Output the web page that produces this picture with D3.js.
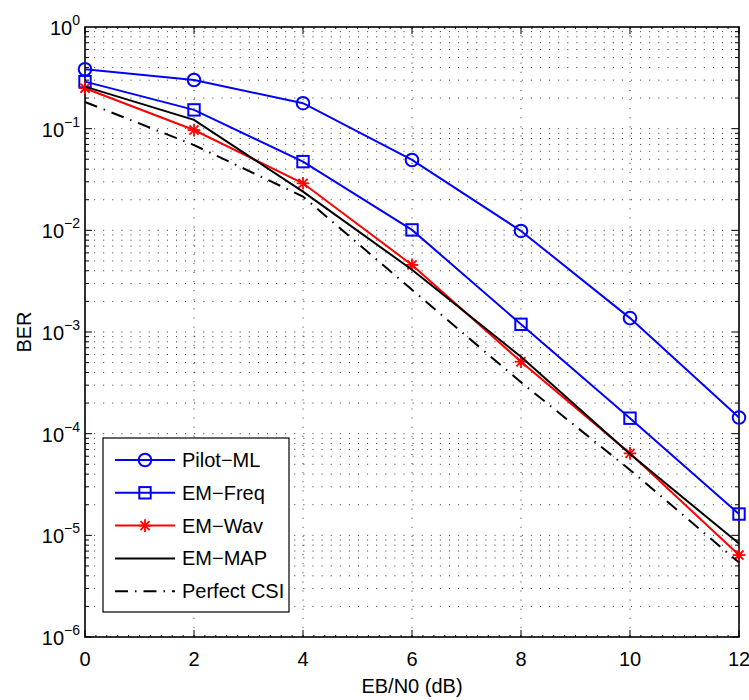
<!DOCTYPE html>
<html><head><meta charset="utf-8">
<script src="https://cdn.jsdelivr.net/npm/d3@7/dist/d3.min.js"></script>
<style>body{margin:0;background:#fff}svg{display:block}text{font-family:"Liberation Sans",Arial,Helvetica,sans-serif}</style>
</head><body><svg id="c" width="749" height="700"></svg>
<script>
const snr = [0, 2, 4, 6, 8, 10, 12];
const pilotML = [0.384, 0.301, 0.178, 0.0492, 0.00986, 0.00137, 0.000144];
const emFreq = [0.29, 0.153, 0.0474, 0.0101, 0.00119, 0.000142, 0.0000162];
const emWav = [0.25, 0.097, 0.029, 0.00457, 0.00051, 0.000064, 0.0000064];
const emMAP = [0.259, 0.122, 0.024, 0.0041, 0.00057, 0.000063, 0.0000083];
const perfectCSI = [0.183, 0.069, 0.0215, 0.0026, 0.00032, 0.000044, 0.0000054];
const xTicks = [0, 2, 4, 6, 8, 10, 12];
const yExponents = [0, -1, -2, -3, -4, -5, -6];
const seriesNames = ["Pilot\u2212ML", "EM\u2212Freq", "EM\u2212Wav", "EM\u2212MAP", "Perfect CSI"];
const xLabel = "EB/N0 (dB)";
const yLabel = "BER";

const series = [
  {name: seriesNames[0], values: pilotML, color: "#0000ff", marker: "circle", dash: null},
  {name: seriesNames[1], values: emFreq, color: "#0000ff", marker: "square", dash: null},
  {name: seriesNames[2], values: emWav, color: "#ff0000", marker: "star", dash: null},
  {name: seriesNames[3], values: emMAP, color: "#000000", marker: null, dash: null},
  {name: seriesNames[4], values: perfectCSI, color: "#000000", marker: null, dash: "13,7,1.5,7"}
];

const L = 85, R = 739, T = 27, B = 637;
const svg = d3.select("#c");
const x = d3.scaleLinear().domain([0, 12]).range([L, R]);
const y = d3.scaleLog().domain([1e-6, 1]).range([B, T]);

// grid
const gridDash = "1,8.1";
const g = svg.append("g");
const minorVals = [];
for (let e = -6; e < 0; e++) for (let k = 1; k <= 9; k++) minorVals.push(k * Math.pow(10, e));
g.selectAll("line.hg").data(minorVals.filter(v => v > 1e-6 && v < 1)).enter().append("line")
  .attr("x1", L).attr("x2", R).attr("y1", d => y(d)).attr("y2", d => y(d))
  .attr("stroke", "#333").attr("stroke-width", 1).attr("stroke-dasharray", gridDash);
g.selectAll("line.vg").data(xTicks.filter(v => v > 0 && v < 12)).enter().append("line")
  .attr("y1", B).attr("y2", T).attr("x1", d => x(d)).attr("x2", d => x(d))
  .attr("stroke", "#333").attr("stroke-width", 1).attr("stroke-dasharray", gridDash);

// axes box with ticks
const ax = svg.append("g").attr("stroke", "#000").attr("stroke-width", 1);
ax.append("rect").attr("x", L).attr("y", T).attr("width", R - L).attr("height", B - T)
  .attr("fill", "none").attr("stroke-width", 1.6);
minorVals.forEach(v => {
  const isMajor = Math.abs(Math.log10(v) - Math.round(Math.log10(v))) < 1e-9;
  const len = isMajor ? 7 : 4;
  ax.append("line").attr("x1", L).attr("x2", L + len).attr("y1", y(v)).attr("y2", y(v));
  ax.append("line").attr("x1", R).attr("x2", R - len).attr("y1", y(v)).attr("y2", y(v));
});
xTicks.forEach(v => {
  ax.append("line").attr("x1", x(v)).attr("x2", x(v)).attr("y1", B).attr("y2", B - 7);
  ax.append("line").attr("x1", x(v)).attr("x2", x(v)).attr("y1", T).attr("y2", T + 7);
});
for (let v = 0.2; v < 12; v += 0.2) {
  ax.append("line").attr("x1", x(v)).attr("x2", x(v)).attr("y1", B).attr("y2", B - 2);
  ax.append("line").attr("x1", x(v)).attr("x2", x(v)).attr("y1", T).attr("y2", T + 2);
}

// tick labels
svg.selectAll("text.xt").data(xTicks).enter().append("text")
  .attr("x", d => x(d)).attr("y", B + 29).attr("text-anchor", "middle")
  .attr("font-size", 20).text(d => d);
yExponents.forEach(e => {
  const t = svg.append("text").attr("x", L - 5).attr("y", y(Math.pow(10, e)) + 8)
    .attr("text-anchor", "end").attr("font-size", 20);
  t.append("tspan").text("10");
  t.append("tspan").attr("dy", -10).attr("font-size", 14).text(e === 0 ? "0" : "\u2212" + Math.abs(e));
});
svg.append("text").attr("x", (L + R) / 2).attr("y", B + 56).attr("text-anchor", "middle")
  .attr("font-size", 20).text(xLabel);
svg.append("text").attr("transform", `translate(31,${(T + B) / 2}) rotate(-90)`)
  .attr("text-anchor", "middle").attr("font-size", 20).text(yLabel);

function drawMarker(sel, type, color, cx, cy) {
  if (type === "circle") {
    sel.append("circle").attr("cx", cx).attr("cy", cy).attr("r", 6.3)
      .attr("fill", "none").attr("stroke", color).attr("stroke-width", 2);
  } else if (type === "square") {
    sel.append("rect").attr("x", cx - 5.7).attr("y", cy - 5.7).attr("width", 11.4).attr("height", 11.4)
      .attr("fill", "none").attr("stroke", color).attr("stroke-width", 2);
  } else if (type === "star") {
    const r = 6.3;
    [[0, -r, 0, r], [-r, 0, r, 0], [-r * 0.72, -r * 0.72, r * 0.72, r * 0.72], [-r * 0.72, r * 0.72, r * 0.72, -r * 0.72]]
      .forEach(a => sel.append("line").attr("x1", cx + a[0]).attr("y1", cy + a[1]).attr("x2", cx + a[2]).attr("y2", cy + a[3])
        .attr("stroke", color).attr("stroke-width", 1.8));
  }
}

const line = d3.line().x((d, i) => x(snr[i])).y(d => y(d));
const plot = svg.append("g");
series.forEach(s => {
  plot.append("path").attr("d", line(s.values)).attr("fill", "none")
    .attr("stroke", s.color).attr("stroke-width", 2)
    .attr("stroke-dasharray", s.dash);
  if (s.marker) s.values.forEach((v, i) => drawMarker(plot, s.marker, s.color, x(snr[i]), y(v)));
});

const lg = svg.append("g");
lg.append("rect").attr("x", 103).attr("y", 438).attr("width", 186).attr("height", 174)
  .attr("fill", "#fff").attr("stroke", "#000").attr("stroke-width", 1.2);
series.forEach((s, i) => {
  const yy = 460 + i * 32.8;
  lg.append("line").attr("x1", 115).attr("x2", 175).attr("y1", yy).attr("y2", yy)
    .attr("stroke", s.color).attr("stroke-width", 2).attr("stroke-dasharray", s.dash);
  if (s.marker) drawMarker(lg, s.marker, s.color, 145, yy);
  lg.append("text").attr("x", 182).attr("y", yy + 7).attr("font-size", 20).text(s.name);
});
</script></body></html>
